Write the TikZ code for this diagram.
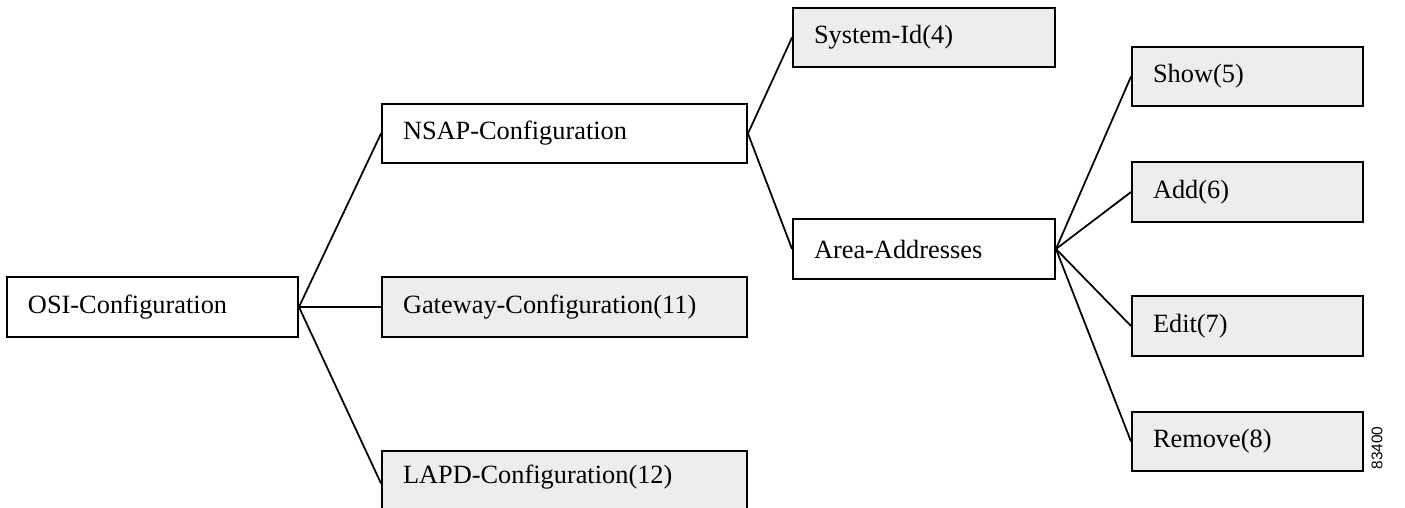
\documentclass[tikz,border=0pt]{standalone}
\usepackage{fontspec}
\setmainfont{Liberation Serif}
\newfontfamily\figfont{Liberation Sans}
\usetikzlibrary{positioning}

\begin{document}
\begin{tikzpicture}[
    box/.style={rectangle, draw, line width=1.1pt, minimum height=1.19cm, inner xsep=0.42cm, align=left, font=\fontsize{15}{18}\selectfont},
    rootbox/.style={box, text width=4.98cm},
    midbox/.style={box, text width=6.46cm},
    subbox/.style={box, text width=4.40cm},
    leafbox/.style={box, text width=3.78cm},
    greybox/.style={fill=gray!14},
    link/.style={line width=1pt},
]
\useasboundingbox (0,0) rectangle (28.1,-10.16);

% Nodes
\node[rootbox] (osi) at (3.05,-6.14) {OSI-Configuration};

\node[midbox] (nsap) at (11.29,-2.67) {NSAP-Configuration};
\node[midbox, greybox] (gateway) at (11.29,-6.14) {Gateway-Configuration(11)};
\node[midbox, greybox, anchor=north, minimum height=1.3cm, text depth=0.35cm] (lapd) at (11.29,-9.0) {LAPD-Configuration(12)};

\node[subbox, greybox] (sysid) at (18.48,-0.75) {System-Id(4)};
\node[subbox] (area) at (18.48,-4.98) {Area-Addresses};

\node[leafbox, greybox] (show) at (24.95,-1.53) {Show(5)};
\node[leafbox, greybox] (add) at (24.95,-3.84) {Add(6)};
\node[leafbox, greybox] (edit) at (24.95,-6.52) {Edit(7)};
\node[leafbox, greybox] (remove) at (24.95,-8.83) {Remove(8)};

\node[rotate=90, font=\figfont\fontsize{8.8}{10}\selectfont, inner sep=0pt] (figid) at (27.54,-8.96) {83400};

% Links
\foreach \c in {nsap,gateway,lapd}
    \draw[link] (osi.east) -- (\c.west);
\foreach \c in {sysid,area}
    \draw[link] (nsap.east) -- (\c.west);
\foreach \c in {show,add,edit,remove}
    \draw[link] (area.east) -- (\c.west);

\end{tikzpicture}
\end{document}
